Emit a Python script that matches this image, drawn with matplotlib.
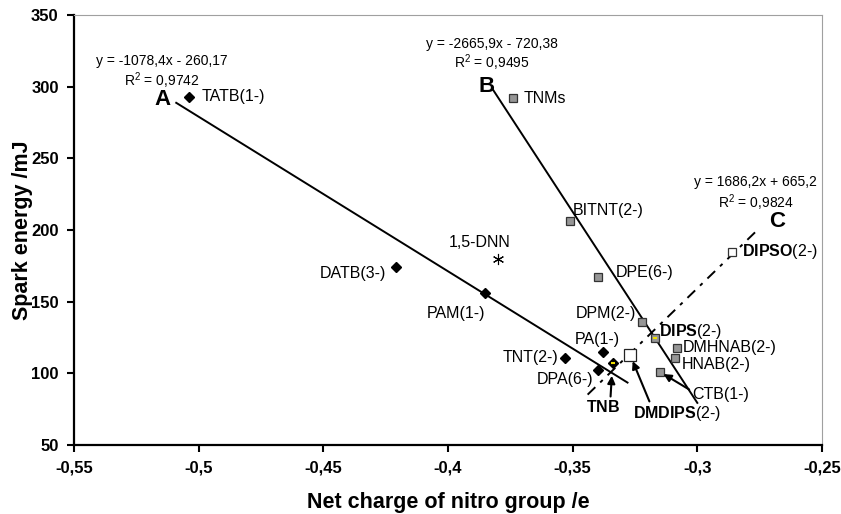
import matplotlib
matplotlib.use("Agg")
import matplotlib.pyplot as plt
import numpy as np

plt.rcParams['font.family'] = ['Liberation Sans', 'DejaVu Sans']
plt.rcParams['mathtext.fontset'] = 'custom'
plt.rcParams['mathtext.rm'] = 'Liberation Sans'
plt.rcParams['mathtext.bf'] = 'Liberation Sans:bold'
plt.rcParams['mathtext.it'] = 'Liberation Sans:italic'

# ---- data ----
a_names = ["TATB(1-)", "DATB(3-)", "PAM(1-)", "TNT(2-)", "PA(1-)", "DPA(6-)", r"$\mathbf{TNB}$"]
a_x = [-0.504, -0.421, -0.385, -0.353, -0.338, -0.340, -0.334]
a_y = [293, 174, 156, 111, 115, 102, 107]

b_names = ["TNMs", "BITNT(2-)", "DPE(6-)", "DPM(2-)", r"$\mathbf{DIPS}$(2-)",
           "DMHNAB(2-)", "HNAB(2-)", "CTB(1-)"]
b_x = [-0.374, -0.351, -0.340, -0.322, -0.317, -0.308, -0.309, -0.315]
b_y = [292, 206, 167, 136, 125, 118, 111, 101]

c_names = [r"$\mathbf{DMDIPS}$(2-)", r"$\mathbf{DIPSO}$(2-)"]
c_x = [-0.327, -0.286]
c_y = [113, 185]

dnn_names = ["1,5-DNN"]
dnn_x = [-0.380]
dnn_y = [180]

fit_names = ["A", "B", "C"]
fit_slope = [-1078.4, -2665.9, 1686.2]
fit_intercept = [-260.17, -720.38, 665.2]
fit_eq = ["y = -1078,4x - 260,17", "y = -2665,9x - 720,38", "y = 1686,2x + 665,2"]
fit_r2 = ["0,9742", "0,9495", "0,9824"]
fit_xmin = [-0.509, -0.382, -0.344]
fit_xmax = [-0.328, -0.300, -0.2757]

x_ticks = [-0.55, -0.5, -0.45, -0.4, -0.35, -0.3, -0.25]
x_tick_labels = ["-0,55", "-0,5", "-0,45", "-0,4", "-0,35", "-0,3", "-0,25"]
y_ticks = [50, 100, 150, 200, 250, 300, 350]
y_tick_labels = ["50", "100", "150", "200", "250", "300", "350"]

# ---- figure ----
fig = plt.figure(figsize=(8.41, 5.14), dpi=100)
ax = fig.add_axes([74/841, 1-445/514, 748/841, 430/514])
ax.set_xlim(-0.55, -0.25)
ax.set_ylim(50, 350)

# fit lines
styles = [dict(ls='-'), dict(ls='-'), dict(dashes=[5.5, 3.5, 1.8, 3.5])]
for k in range(3):
    xs = np.array([fit_xmin[k], fit_xmax[k]])
    ys = fit_slope[k] * xs + fit_intercept[k]
    ax.plot(xs, ys, color='black', lw=1.4, zorder=2, **styles[k])

# markers
ax.plot(a_x, a_y, ls='none', marker='D', ms=5.6, mfc='black', mec='black', zorder=4)
ax.plot(b_x, b_y, ls='none', marker='s', ms=6.0, mfc='#969696', mec='#333333', mew=0.9, zorder=4)
ax.plot(c_x[:1], c_y[:1], ls='none', marker='s', ms=8.0, mfc='white', mec='#222222', mew=0.9, zorder=4)
ax.plot(c_x[1:], c_y[1:], ls='none', marker='s', ms=6.0, mfc='white', mec='#333333', mew=0.9, zorder=4)
ax.plot(dnn_x, dnn_y, ls='none', marker=(6, 2, 0), ms=8, mec='black', mew=0.8, zorder=4)
# small yellow highlights inside TNB and DIPS markers
ax.plot([a_x[6], b_x[4]], [a_y[6], b_y[4]], ls='none', marker='_', ms=3, mec='#f0e000', mew=1.5, zorder=5)

fs = 11.5
def lab(name, x, y, dx, dy, ha, arrow=None):
    kw = dict(xy=(x, y), xytext=(dx, dy), textcoords='offset pixels',
              ha=ha, va='center', fontsize=fs, zorder=6)
    if arrow is not None:
        kw['arrowprops'] = dict(arrowstyle='-|>', color='black', lw=1.5,
                                mutation_scale=11, shrinkA=0, shrinkB=arrow[2],
                                relpos=(arrow[0], arrow[1]))
    ax.annotate(name, **kw)

# series A labels
a_off = [(13, 0, 'left'), (-10, -6, 'right'), (0, -20, 'right'), (-7, 0, 'right'),
         (-5, 12, 'center'), (-4, -9, 'right'), (-9, -44, 'center')]
for i in range(len(a_names)):
    dx, dy, ha = a_off[i]
    lab(a_names[i], a_x[i], a_y[i], dx, dy, ha,
        arrow=(0.7, 1.0, 9) if i == 6 else None)

b_off = [(11, 0, 'left'), (3, 11, 'left'), (18, 5, 'left'), (-6, 8, 'right'),
         (4, 6, 'left'), (5, 0, 'left'), (7, -7, 'left'), (32, -23, 'left')]
for i in range(len(b_names)):
    dx, dy, ha = b_off[i]
    lab(b_names[i], b_x[i], b_y[i], dx, dy, ha,
        arrow=(0.0, 0.75, 3) if i == 7 else None)

lab(c_names[0], c_x[0], c_y[0], 47, -59, 'center', arrow=(0.2, 1.0, 5))
lab(c_names[1], c_x[1], c_y[1], 10, 0, 'left')
lab(dnn_names[0], dnn_x[0], dnn_y[0], -18, 16, 'center')

# fit equations and letters
eq_pos = [(-0.5147, 317.9, 304.0), (-0.3825, 329.8, 316.5), (-0.2765, 233.5, 218.8)]
letter_pos = [(-0.5147, 290.9), (-0.3845, 299.8), (-0.2681, 205.6)]
for k in range(3):
    ex, ey1, ey2 = eq_pos[k]
    ax.text(ex, ey1, fit_eq[k], ha='center', va='center', fontsize=10)
    ax.text(ex, ey2, "R$^2$ = " + fit_r2[k], ha='center', va='center', fontsize=10)
    lx, ly = letter_pos[k]
    ax.text(lx, ly, fit_names[k], ha='center', va='center', fontsize=16, fontweight='bold')

# axes styling
ax.set_xticks(x_ticks)
ax.set_xticklabels(x_tick_labels)
ax.set_yticks(y_ticks)
ax.set_yticklabels(y_tick_labels)
for t in ax.get_xticklabels() + ax.get_yticklabels():
    t.set_fontweight('bold')
    t.set_fontsize(12)
ax.tick_params(direction='out', length=5, width=1.5, colors='black', pad=6)
for s in ['left', 'bottom']:
    ax.spines[s].set_linewidth(1.6)
    ax.spines[s].set_color('black')
for s in ['top', 'right']:
    ax.spines[s].set_linewidth(0.8)
    ax.spines[s].set_color('#a0a0a0')

ax.set_xlabel("Net charge of nitro group /e", fontsize=15.5, fontweight='bold', labelpad=12)
ax.set_ylabel("Spark energy /mJ", fontsize=15.5, fontweight='bold', labelpad=-1.5)

fig.savefig("out.png", dpi=100)
